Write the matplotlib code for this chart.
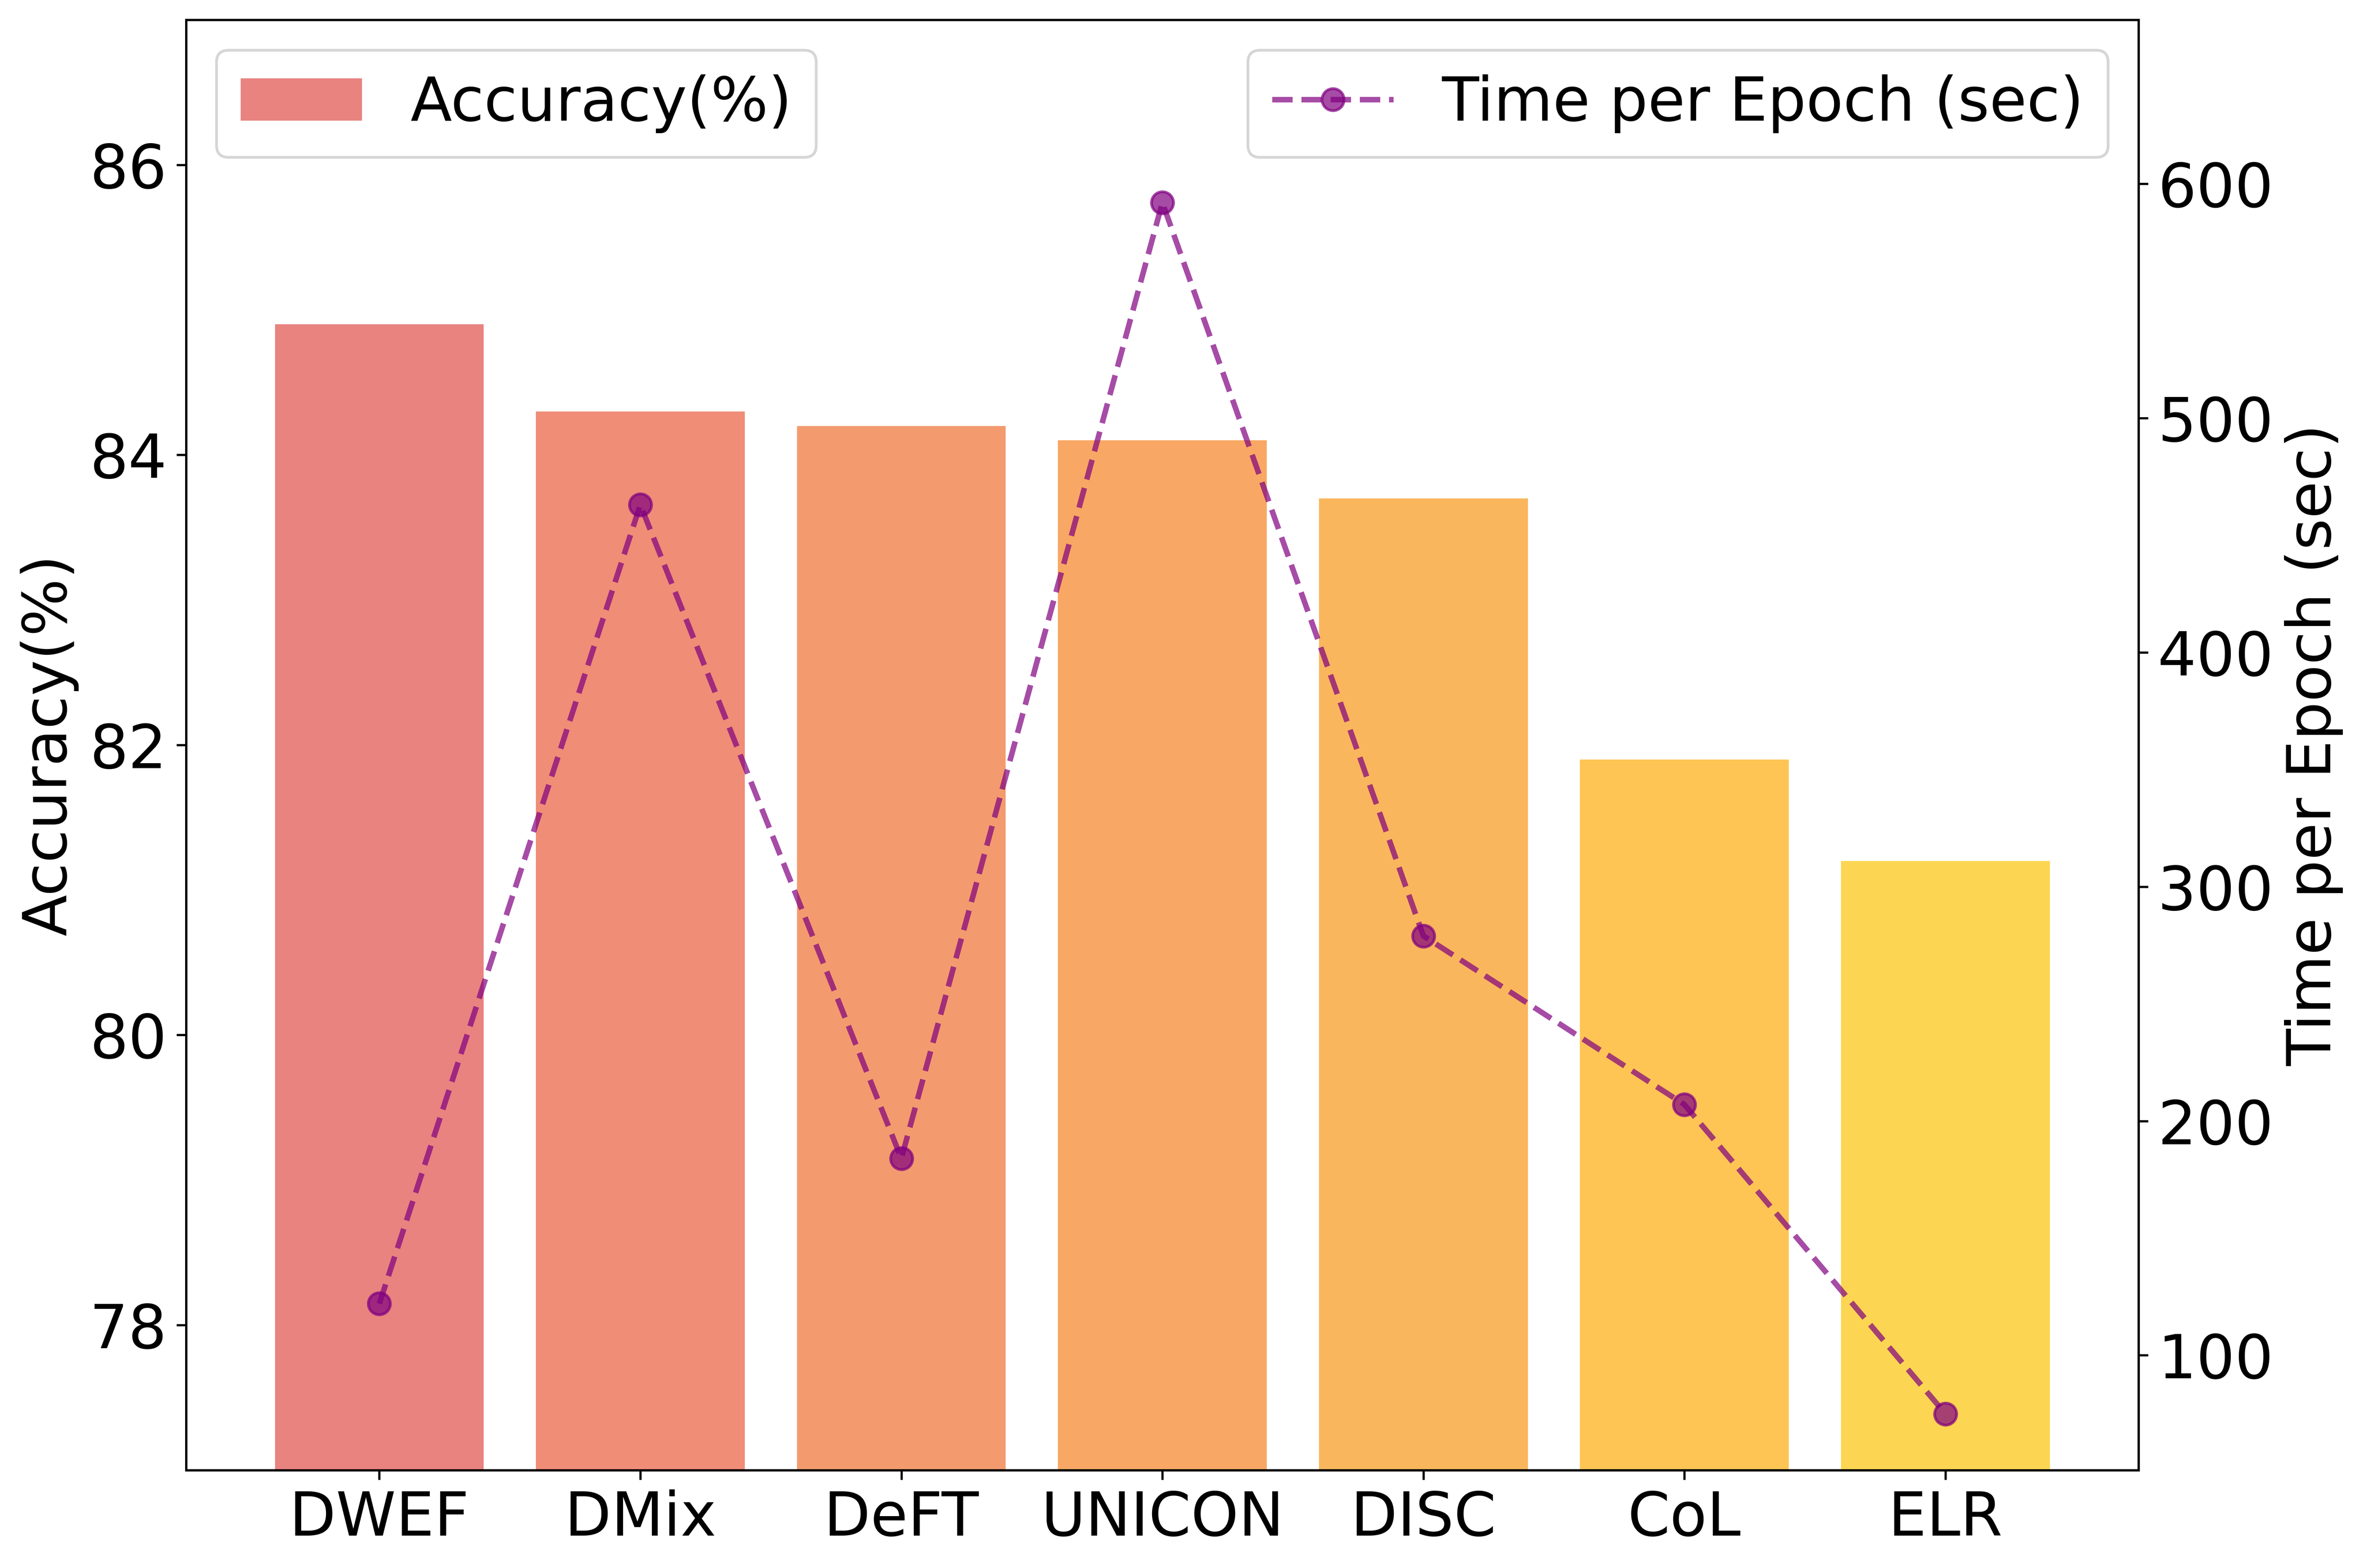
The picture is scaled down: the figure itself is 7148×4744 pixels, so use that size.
import matplotlib
matplotlib.use("Agg")
import matplotlib.pyplot as plt
import numpy as np

# data
methods = ["DWEF", "DMix", "DeFT", "UNICON", "DISC", "CoL", "ELR"]
accuracy = [84.9, 84.3, 84.2, 84.1, 83.7, 81.9, 81.2]
time_per_epoch = [122, 463, 184, 592, 279, 207, 75]

bar_colors = ["#E88380", "#EF8D77", "#F39B6E", "#F8A864", "#FAB65D", "#FEC555", "#FCD652"]

fig, ax1 = plt.subplots(figsize=(12, 8))

x = np.arange(len(methods))
ax1.bar(x, accuracy, width=0.8, color=bar_colors, label="Accuracy(%)")
ax1.set_ylim(77, 87)
ax1.set_ylabel("Accuracy(%)", fontsize=22)
ax1.set_xticks(x)
ax1.set_xticklabels(methods, fontsize=22)
ax1.tick_params(axis="y", labelsize=22)

ax2 = ax1.twinx()
ax2.plot(x, time_per_epoch, color="purple", linestyle="--", marker="o",
         markersize=8, linewidth=2, alpha=0.7, label="Time per Epoch (sec)")
ax2.set_ylim(51, 670)
ax2.set_ylabel("Time per Epoch (sec)", fontsize=22)
ax2.tick_params(axis="y", labelsize=22)

ax1.legend(loc="upper left", fontsize=22)
ax2.legend(loc="upper right", fontsize=22)

plt.tight_layout()
plt.savefig("out.png", dpi=600, bbox_inches="tight")
